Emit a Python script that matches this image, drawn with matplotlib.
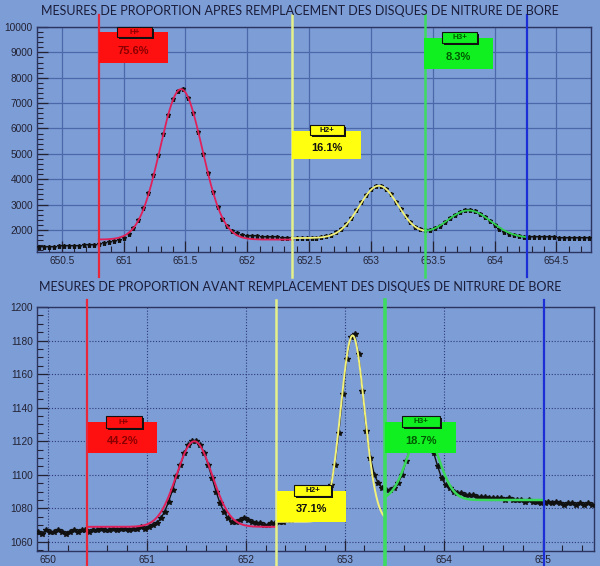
import numpy as np
import matplotlib
matplotlib.use("Agg")
import matplotlib.pyplot as plt
from matplotlib.patches import Rectangle
from matplotlib.ticker import MultipleLocator

# ---------------- data ----------------
title_top = "MESURES DE PROPORTION APRES REMPLACEMENT DES DISQUES DE NITRURE DE BORE"
title_bot = "MESURES DE PROPORTION AVANT REMPLACEMENT DES DISQUES DE NITRURE DE BORE"

top_x = np.round(650.32 + 0.04 * np.arange(112), 2)
top_y = [1330, 1335, 1340, 1345, 1350, 1355, 1360, 1370, 1380, 1390, 1400, 1420,
         1440, 1470, 1510, 1560, 1620, 1700, 1850, 2060, 2400, 2850, 3450, 4150,
         4950, 5800, 6550, 7150, 7480, 7550, 7200, 6600, 5850, 5000, 4250, 3500,
         2900, 2450, 2150, 1960, 1860, 1810, 1780, 1760, 1750, 1740, 1730, 1720,
         1710, 1700, 1695, 1690, 1690, 1690, 1690, 1695, 1700, 1720, 1755, 1810,
         1905, 2045, 2240, 2490, 2785, 3095, 3385, 3610, 3735, 3740, 3620, 3400,
         3110, 2810, 2530, 2300, 2130, 2020, 1980, 2000, 2060, 2170, 2310, 2460,
         2600, 2710, 2780, 2790, 2740, 2640, 2500, 2340, 2180, 2040, 1930, 1850,
         1790, 1760, 1740, 1730, 1725, 1720, 1715, 1710, 1705, 1700, 1695, 1690,
         1685, 1680, 1675, 1670]

bot_x = np.round(649.90 + 0.04 * np.arange(141), 2)
bot_y = [1066, 1065, 1067, 1066, 1066, 1067, 1066, 1065, 1066, 1067, 1066, 1067,
         1067, 1066, 1067, 1067, 1068, 1067, 1067, 1068, 1067, 1068, 1068, 1067,
         1068, 1068, 1069, 1068, 1069, 1070, 1071, 1074, 1078, 1084, 1091, 1099,
         1106, 1113, 1118, 1120, 1120, 1118, 1113, 1106, 1098, 1090, 1083, 1078,
         1074, 1072, 1072, 1073, 1074, 1073, 1072, 1071, 1071, 1070, 1070, 1071,
         1071, 1072, 1072, 1073, 1073, 1074, 1074, 1074, 1075, 1075, 1076, 1077,
         1080, 1086, 1094, 1106, 1125, 1148, 1169, 1182, 1184, 1172, 1150, 1126,
         1110, 1100, 1095, 1092, 1091, 1091, 1092, 1095, 1100, 1108, 1116, 1123,
         1127, 1128, 1126, 1121, 1113, 1105, 1098, 1094, 1092, 1090, 1089, 1089,
         1088, 1088, 1088, 1087, 1087, 1087, 1086, 1086, 1086, 1086, 1085, 1086,
         1085, 1085, 1085, 1084, 1085, 1084, 1084, 1083, 1083, 1084, 1083, 1084,
         1083, 1082, 1083, 1083, 1082, 1083, 1082, 1083, 1082]

# fit parameters (baseline, amplitude, centre, sigma)
top_fit_red = (1620, 5930, 651.465, 0.17)
top_fit_base = 1680
top_fit_h2 = (2060, 653.065, 0.16)
top_fit_h3 = (1090, 653.79, 0.18)
top_limits = [650.80, 652.36, 653.44, 654.26]   # red, yellow, green, blue markers

bot_fit_red = (1069, 51, 651.48, 0.18)
bot_fit_h2 = (1072, 111, 653.08, 0.12)
bot_fit_h3 = (1085, 43, 653.79, 0.153)
bot_limits = [650.40, 652.31, 653.41, 655.01]

top_pct = ["75.6%", "16.1%", "8.3%"]
bot_pct = ["44.2%", "37.1%", "18.7%"]
ion_labels = ["H+", "H2+", "H3+"]

# ---------------- style ----------------
BG = "#7d9dd6"
W, H = 600, 566
fig = plt.figure(figsize=(6, 5.66), dpi=100, facecolor=BG)

def fx(px):
    return px / W

def fy(py):
    return 1 - py / H

def gauss(x, a, c, s):
    return a * np.exp(-(x - c) ** 2 / (2 * s ** 2))

ax1 = fig.add_axes([fx(37), fy(252), (591 - 37) / W, (252 - 27) / H])
ax2 = fig.add_axes([fx(37), fy(551), (594 - 37) / W, (551 - 307) / H])

for ax in (ax1, ax2):
    ax.set_facecolor(BG)
    for sp in ax.spines.values():
        sp.set_color("#2c3560")
        sp.set_linewidth(1.0)
    ax.tick_params(which="both", direction="in", colors="#222233",
                   labelsize=7.3, top=False, right=False)
    ax.tick_params(which="major", length=8, width=0.9, pad=3)
    ax.tick_params(which="minor", length=4, width=0.8)

# ---- top panel ----
ax1.set_xlim(650.30, 654.78)
ax1.set_ylim(1130, 10000)
ax1.xaxis.set_minor_locator(MultipleLocator(0.1))
ax1.yaxis.set_minor_locator(MultipleLocator(200))
ax1.set_xticks([650.5, 651, 651.5, 652, 652.5, 653, 653.5, 654, 654.5])
ax1.set_xticklabels(["650.5", "651", "651.5", "652", "652.5", "653", "653.5", "654", "654.5"],
                    family="Liberation Sans")
ax1.set_yticks([2000, 3000, 4000, 5000, 6000, 7000, 8000, 9000, 10000])
ax1.set_yticklabels(["2000", "3000", "4000", "5000", "6000", "7000", "8000", "9000", "10000"],
                    family="Liberation Sans")
ax1.grid(True, which="major", color="#4d67ab", lw=0.9, ls="-")
ax1.set_axisbelow(True)

ax1.plot(top_x, top_y, ls="none", marker="*", ms=3.6, color="#111111", zorder=3)

b, a, c, s = top_fit_red
xr = np.linspace(top_limits[0], top_limits[1], 300)
ax1.plot(xr, b + gauss(xr, a, c, s), color="#e0205a", lw=1.3, zorder=4)

def top_model(x):
    return top_fit_base + gauss(x, *top_fit_h2) + gauss(x, *top_fit_h3)

xy = np.linspace(top_limits[1], top_limits[2], 300)
ax1.plot(xy, top_model(xy), color="#f2f27a", lw=1.3, zorder=4)
xg = np.linspace(top_limits[2], top_limits[3], 300)
ax1.plot(xg, top_model(xg), color="#2fd04e", lw=1.3, zorder=4)

for xv, col, lw in zip(top_limits, ["#e8283a", "#e4f08a", "#3ddc60", "#1c2fd6"],
                       [1.6, 1.8, 1.8, 1.6]):
    ax1.axvline(xv, ymin=(252 - 277) / 225, ymax=(252 - 15) / 225, color=col,
                lw=lw, clip_on=False, zorder=5)

# ---- bottom panel ----
ax2.set_xlim(649.89, 655.52)
ax2.set_ylim(1054.6, 1200)
ax2.xaxis.set_minor_locator(MultipleLocator(0.2))
ax2.yaxis.set_minor_locator(MultipleLocator(5))
ax2.set_xticks([650, 651, 652, 653, 654, 655])
ax2.set_xticklabels(["650", "651", "652", "653", "654", "655"], family="Liberation Sans")
ax2.set_yticks([1060, 1080, 1100, 1120, 1140, 1160, 1180, 1200])
ax2.set_yticklabels(["1060", "1080", "1100", "1120", "1140", "1160", "1180", "1200"],
                    family="Liberation Sans")
ax2.grid(True, which="major", color="#2d3a78", lw=0.8, ls=(0, (1, 1.6)))
ax2.set_axisbelow(True)

ax2.plot(bot_x, bot_y, ls="-", lw=1.0, marker="*", ms=4.2, color="#111111", zorder=3)

b, a, c, s = bot_fit_red
xr = np.linspace(bot_limits[0], bot_limits[1], 300)
ax2.plot(xr, b + gauss(xr, a, c, s), color="#e0205a", lw=1.4, zorder=4)
b, a, c, s = bot_fit_h2
xy = np.linspace(bot_limits[1], bot_limits[2] - 0.01, 300)
ax2.plot(xy, b + gauss(xy, a, c, s), color="#f2f27a", lw=1.4, zorder=4)
b, a, c, s = bot_fit_h3
xg = np.linspace(bot_limits[2], bot_limits[3], 300)
ax2.plot(xg, b + gauss(xg, a, c, s), color="#3ad85a", lw=1.8, zorder=4)

for xv, col, lw in zip(bot_limits, ["#e8283a", "#e4f08a", "#3ddc60", "#1c2fd6"],
                       [1.6, 1.8, 2.6, 1.6]):
    ax2.axvline(xv, ymin=(551 - 566) / 244, ymax=(551 - 300) / 244, color=col,
                lw=lw, clip_on=False, zorder=5)

# ---- titles ----
for txt, yc in [(title_top, 11), (title_bot, 287)]:
    fig.text(fx(300), fy(yc), txt, ha="center", va="center", fontsize=9.0,
             family="Lato", color="#1a1d3a")

# ---- annotation boxes ----
def add_box(box, lab, label, pct, fill, txtcol):
    x0, y0, x1, y1 = box
    fig.add_artist(Rectangle((fx(x0), fy(y1)), (x1 - x0) / W, (y1 - y0) / H,
                             transform=fig.transFigure, facecolor=fill,
                             edgecolor="none", zorder=10))
    lx0, ly0, lx1, ly1 = lab
    fig.add_artist(Rectangle((fx(lx0 + 2), fy(ly1 + 2)), (lx1 - lx0) / W, (ly1 - ly0) / H,
                             transform=fig.transFigure, facecolor="#111111",
                             edgecolor="none", zorder=11))
    fig.add_artist(Rectangle((fx(lx0), fy(ly1)), (lx1 - lx0) / W, (ly1 - ly0) / H,
                             transform=fig.transFigure, facecolor=fill,
                             edgecolor="#111111", lw=0.8, zorder=12))
    fig.text(fx((lx0 + lx1) / 2), fy((ly0 + ly1) / 2), label, ha="center", va="center",
             fontsize=5.8, family="Liberation Sans", weight="bold", color=txtcol, zorder=13)
    fig.text(fx((x0 + x1) / 2), fy((y0 + y1) / 2 + 3), pct, ha="center", va="center",
             fontsize=8, family="Liberation Sans", weight="bold", color=txtcol, zorder=13)

fills = ["#ff1010", "#ffff10", "#10f020"]
tcols = ["#8a0000", "#111111", "#005a00"]

top_boxes = [(99, 32, 168, 63), (292, 131, 361, 159), (424, 38, 493, 69)]
top_labs = [(117, 27, 152, 37), (310, 125, 344, 135), (442, 32, 477, 43)]
bot_boxes = [(88, 422, 157, 453), (277, 491, 346, 522), (385, 422, 456, 453)]
bot_labs = [(106, 416, 142, 428), (294, 485, 331, 496), (402, 416, 440, 427)]

for i in range(3):
    add_box(top_boxes[i], top_labs[i], ion_labels[i], top_pct[i], fills[i], tcols[i])
    add_box(bot_boxes[i], bot_labs[i], ion_labels[i], bot_pct[i], fills[i], tcols[i])

fig.savefig("out.png", dpi=100, facecolor=BG)
